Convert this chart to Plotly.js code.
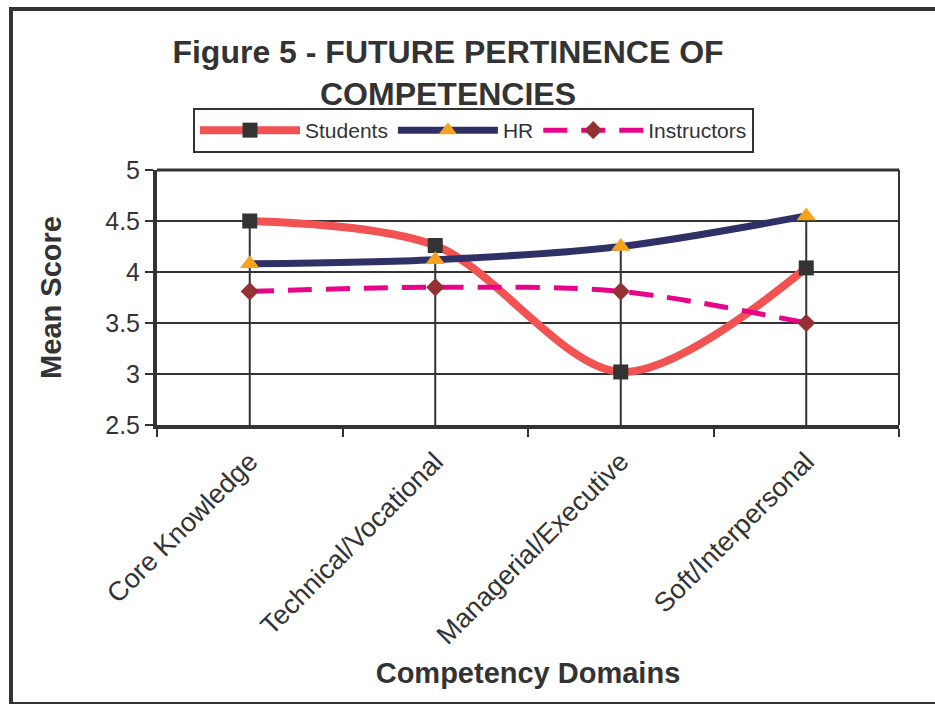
<!DOCTYPE html>
<html>
<head>
<meta charset="utf-8">
<script src="https://cdn.plot.ly/plotly-3.0.1.min.js"></script>
<style>
html,body{margin:0;padding:0;background:#fff;}
#chart{width:935px;height:705px;}
</style>
</head>
<body>
<div id="chart"></div>
<script>
const categories = ["Core Knowledge", "Technical/Vocational", "Managerial/Executive", "Soft/Interpersonal"];
const students = [4.5, 4.26, 3.02, 4.04];
const hr = [4.08, 4.12, 4.25, 4.55];
const instructors = [3.81, 3.85, 3.81, 3.5];
const yTicks = [2.5, 3, 3.5, 4, 4.5, 5];
const yTickLabels = ["2.5", "3", "3.5", "4", "4.5", "5"];

const yMin = 2.5;
// drop lines from the highest value in each category to the axis
const dropX = [], dropY = [];
categories.forEach((c, i) => {
  dropX.push(c, c, null);
  dropY.push(Math.max(students[i], hr[i], instructors[i]), yMin, null);
});

const font = "Liberation Sans, Arial, sans-serif";
const dark = "#333333";

const traces = [
  {x: dropX, y: dropY, mode: "lines", line: {color: dark, width: 2}, showlegend: false, hoverinfo: "skip"},
  {x: categories, y: students, name: "Students", mode: "lines+markers",
   line: {color: "#f25252", width: 8, shape: "spline", smoothing: 0.9},
   marker: {symbol: "square", size: 15, color: dark}},
  {x: categories, y: hr, name: "HR", mode: "lines+markers",
   line: {color: "#2f3066", width: 7, shape: "spline", smoothing: 0.9},
   marker: {symbol: "triangle-up", size: 17, color: "#f5a21c"}},
  {x: categories, y: instructors, name: "Instructors", mode: "lines+markers",
   line: {color: "#e8048a", width: 5, dash: "24px,14px", shape: "spline", smoothing: 0.9},
   marker: {symbol: "diamond", size: 14, color: "#953135"}}
];

const L = 157, R = 36, T = 170, B = 280;
const PW = 935 - L - R, PH = 705 - T - B;
const px = v => (v - L) / PW;
const py = v => (705 - B - v) / PH;

const layout = {
  width: 935, height: 705,
  margin: {l: L, r: R, t: T, b: B},
  paper_bgcolor: "#fff", plot_bgcolor: "#fff",
  font: {family: font, color: dark},
  title: {text: "<b>Figure 5 - FUTURE PERTINENCE OF<br>COMPETENCIES</b>",
          font: {family: font, size: 32, color: dark}, x: 448 / 935, xanchor: "center", y: 1 - 63 / 705, yanchor: "middle"},
  showlegend: true,
  legend: {orientation: "h", x: px(193), xanchor: "left", y: py(108), yanchor: "top",
           bordercolor: dark, borderwidth: 2, bgcolor: "#fff",
           font: {family: font, size: 21, color: dark}, itemwidth: 100, traceorder: "normal"},
  xaxis: {
    type: "category", range: [-0.5, 3.5], tickangle: -45,
    tickfont: {family: font, size: 27, color: dark},
    ticks: "outside", tickson: "boundaries", ticklen: 8, tickwidth: 2, tickcolor: dark,
    ticklabelstandoff: 6,
    showline: true, linecolor: dark, linewidth: 4, mirror: false,
    showgrid: false, zeroline: false,
    title: {text: "<b>Competency Domains</b>", font: {family: font, size: 29, color: dark}, standoff: 14}
  },
  yaxis: {
    range: [2.5, 5], tickvals: yTicks, ticktext: yTickLabels,
    tickfont: {family: font, size: 25, color: dark},
    ticks: "outside", ticklen: 8, tickwidth: 2, tickcolor: dark,
    showline: true, linecolor: dark, linewidth: 4,
    showgrid: true, gridcolor: dark, gridwidth: 2, zeroline: false,
    title: {text: "<b>Mean Score</b>", font: {family: font, size: 29, color: dark}, standoff: 36}
  },
  shapes: [
    {type: "line", xref: "paper", yref: "paper", x0: 0, x1: 1, y0: 1, y1: 1, line: {color: dark, width: 3}},
    {type: "line", xref: "paper", yref: "paper", x0: 1, x1: 1, y0: 0, y1: 1, line: {color: dark, width: 2}},
    {type: "line", xref: "paper", yref: "paper", x0: px(11), x1: px(11), y0: py(8), y1: py(704), line: {color: dark, width: 4}},
    {type: "line", xref: "paper", yref: "paper", x0: px(9), x1: px(940), y0: py(9), y1: py(9), line: {color: dark, width: 4}},
    {type: "line", xref: "paper", yref: "paper", x0: px(9), x1: px(940), y0: py(703), y1: py(703), line: {color: dark, width: 2}}
  ]
};

Plotly.newPlot("chart", traces, layout, {displayModeBar: false, staticPlot: true});
</script>
</body>
</html>
